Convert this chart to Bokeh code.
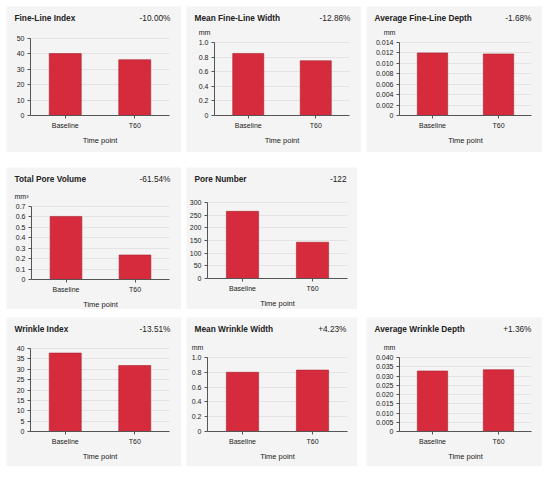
from bokeh.plotting import figure
from bokeh.models import (FixedTicker, CustomJSTickFormatter, Spacer, ColumnDataSource,
                          Range1d, Label)
from bokeh.layouts import row, column
from bokeh.embed import file_html
from bokeh.resources import INLINE

# ---------------- data ----------------
categories = ["Baseline", "T60"]
x_axis_label = "Time point"

fine_line_index = [40.2, 36.2]
mean_fine_line_width = [0.85, 0.75]
average_fine_line_depth = [0.0120, 0.0118]
total_pore_volume = [0.605, 0.235]
pore_number = [265, 143]
wrinkle_index = [37.8, 31.8]
mean_wrinkle_width = [0.80, 0.83]
average_wrinkle_depth = [0.0327, 0.0334]

titles = ["Fine-Line Index", "Mean Fine-Line Width", "Average Fine-Line Depth",
          "Total Pore Volume", "Pore Number",
          "Wrinkle Index", "Mean Wrinkle Width", "Average Wrinkle Depth"]
changes = ["-10.00%", "-12.86%", "-1.68%", "-61.54%", "-122", "-13.51%", "+4.23%", "+1.36%"]
units = ["", "mm", "mm", "mm\u00b3", "", "", "mm", "mm"]

ticks_fli = [0, 10, 20, 30, 40, 50]
ticks_width = [0, 0.2, 0.4, 0.6, 0.8, 1.0]
ticks_fld = [0, 0.002, 0.004, 0.006, 0.008, 0.010, 0.012, 0.014]
ticks_tpv = [0, 0.1, 0.2, 0.3, 0.4, 0.5, 0.6, 0.7]
ticks_pn = [0, 50, 100, 150, 200, 250, 300]
ticks_wi = [0, 5, 10, 15, 20, 25, 30, 35, 40]
ticks_wd = [0, 0.005, 0.010, 0.015, 0.020, 0.025, 0.030, 0.035, 0.040]
tick_decimals = [0, 1, 3, 1, 0, 0, 1, 3]

# ---------------- style ----------------
BG = "#f4f4f4"
RED = "#d62b3c"
RED_LINE = "#a8202e"
AXIS = "#555555"
GRID = "#e3e3e3"
TXT = "#222222"
FONT = "Liberation Sans"


def panel(i, values, ticks, W, H, L, R, T, B):
    n = len(categories)
    xs = list(range(n))
    sx = n / (W - L - R)
    ymax = ticks[-1]
    sy = ymax / (H - T - B)
    p = figure(width=W, height=H, output_backend="svg", toolbar_location=None,
               x_range=Range1d(-0.5 - L * sx, n - 0.5 + R * sx),
               y_range=Range1d(-B * sy, ymax + T * sy),
               min_border=0, min_border_left=0, min_border_right=0,
               min_border_top=0, min_border_bottom=0,
               background_fill_color=BG, border_fill_color=BG,
               outline_line_color=None)
    src = ColumnDataSource(dict(x=xs, cat=categories, val=values))
    p.vbar(x="x", top="val", width=0.46, source=src,
           fill_color=RED, line_color=RED_LINE, line_width=0.6)

    p.xgrid.visible = False
    g = p.ygrid[0]
    g.grid_line_color = GRID
    g.ticker = FixedTicker(ticks=ticks)
    g.bounds = (0, ymax)
    if "cross_bounds" in g.properties():
        g.cross_bounds = (-0.5, n - 0.5)
    else:
        g.visible = False
        p.segment(x0=-0.5, x1=n - 0.5, y0=ticks[1:], y1=ticks[1:],
                  line_color=GRID, line_width=1, level="underlay")

    ya = p.yaxis[0]
    ya.fixed_location = -0.5
    ya.bounds = (0, ymax)
    ya.ticker = FixedTicker(ticks=ticks)
    ya.formatter = CustomJSTickFormatter(args=dict(d=tick_decimals[i]),
                                         code="return tick == 0 ? '0' : tick.toFixed(d);")
    ya.minor_tick_line_color = None
    ya.major_tick_out = 3
    ya.major_tick_in = 0
    ya.major_label_standoff = 3
    ya.axis_line_color = AXIS
    ya.major_tick_line_color = AXIS
    ya.major_label_text_font = FONT
    ya.major_label_text_font_size = "7px"
    ya.major_label_text_color = TXT

    xa = p.xaxis[0]
    xa.fixed_location = 0
    xa.bounds = (-0.5, n - 0.5)
    xa.ticker = FixedTicker(ticks=xs)
    xa.formatter = CustomJSTickFormatter(args=dict(cats=categories),
                                         code="const k = Math.round(tick); return (k >= 0 && k < cats.length) ? cats[k] : '';")
    xa.minor_tick_line_color = None
    xa.axis_label = x_axis_label
    xa.axis_label_text_font = FONT
    xa.axis_label_text_font_size = "7.5px"
    xa.axis_label_text_font_style = "normal"
    xa.axis_label_text_color = TXT
    xa.axis_label_standoff = 4
    xa.major_tick_out = 3
    xa.major_tick_in = 0
    xa.major_label_standoff = 3
    xa.axis_line_color = AXIS
    xa.major_tick_line_color = AXIS
    xa.major_label_text_font = FONT
    xa.major_label_text_font_size = "7px"
    xa.major_label_text_color = TXT

    p.add_layout(Label(x=8, y=H - 11, x_units="screen", y_units="screen",
                       text=titles[i], text_font=FONT, text_font_size="8.3px",
                       text_font_style="bold", text_color=TXT,
                       text_baseline="middle", text_align="left"))
    p.add_layout(Label(x=W - 11, y=H - 11, x_units="screen", y_units="screen",
                       text=changes[i], text_font=FONT, text_font_size="8.3px",
                       text_color=TXT, text_baseline="middle", text_align="right"))
    if units[i]:
        p.add_layout(Label(x=L - 10, y=H - T + 10, x_units="screen", y_units="screen",
                           text=units[i], text_font=FONT, text_font_size="7px",
                           text_color=TXT, text_baseline="middle", text_align="center"))
    return p


p1 = panel(0, fine_line_index, ticks_fli, 175, 146, 24, 12, 32, 37)
p2 = panel(1, mean_fine_line_width, ticks_width, 175, 146, 28, 12, 36, 37)
p3 = panel(2, average_fine_line_depth, ticks_fld, 176, 146, 33, 11, 36, 37)
p4 = panel(3, total_pore_volume, ticks_tpv, 175, 142, 25, 12, 39, 30)
p5 = panel(4, pore_number, ticks_pn, 171, 142, 21, 10, 35, 31)
p7 = panel(5, wrinkle_index, ticks_wi, 175, 149, 24, 12, 31, 35)
p8 = panel(6, mean_wrinkle_width, ticks_width, 171, 149, 21, 10, 40, 35)
p9 = panel(7, average_wrinkle_depth, ticks_wd, 176, 149, 33, 11, 40, 35)

r1 = row(p1, Spacer(width=5, height=146), p2, Spacer(width=5, height=146), p3)
r2 = row(p4, Spacer(width=5, height=142), p5, Spacer(width=185, height=142))
r3 = row(p7, Spacer(width=5, height=149), p8, Spacer(width=9, height=149), p9)
grid = column(Spacer(width=536, height=6), r1, Spacer(width=536, height=15), r2,
              Spacer(width=536, height=8), r3)
layout = row(Spacer(width=6, height=470), grid)

open("out.html", "w").write(file_html(layout, INLINE))
